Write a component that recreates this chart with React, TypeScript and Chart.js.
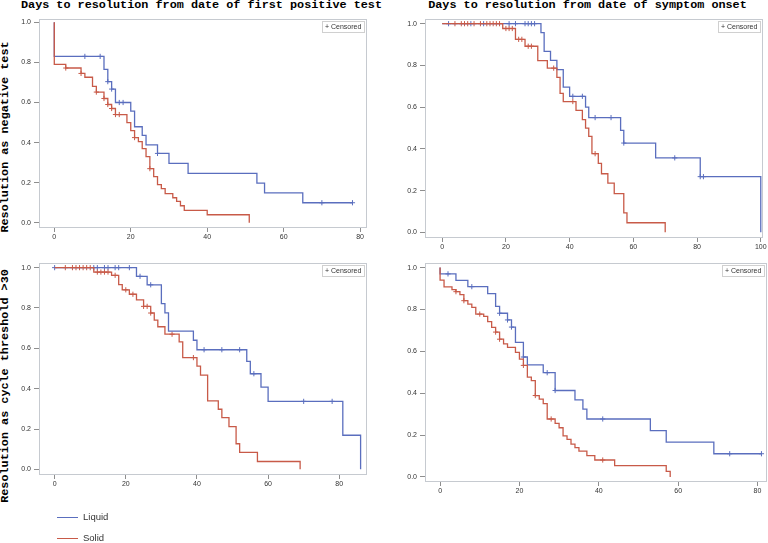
import React, { useEffect, useRef } from "react";
import { Chart, registerables } from "chart.js";

Chart.register(...registerables);
Chart.defaults.font.family = "'Liberation Sans', Arial, sans-serif";

// ---------- Data ----------
// Panel A: days from first positive test, resolution as negative test
const aLiquidTimes = [0, 0, 13, 14, 15, 16, 20, 21, 23, 24, 27, 30, 35, 53, 55, 65, 78];
const aLiquidSurv = [1, 0.83, 0.765, 0.704, 0.667, 0.6, 0.557, 0.479, 0.436, 0.389, 0.346, 0.296, 0.246, 0.198, 0.149, 0.1, 0.1];
const aLiquidCens = [8, 12, 14, 15, 17, 18, 27, 70, 78];
const aSolidTimes = [0, 0, 3, 7, 8, 10, 11, 13, 14, 15, 16, 19, 20, 21, 22, 23, 24, 25, 26, 27, 28, 29, 31, 32, 33, 34, 40, 51];
const aSolidSurv = [1, 0.79, 0.772, 0.745, 0.726, 0.68, 0.652, 0.62, 0.59, 0.57, 0.54, 0.5, 0.46, 0.425, 0.405, 0.37, 0.33, 0.27, 0.23, 0.19, 0.17, 0.145, 0.125, 0.107, 0.085, 0.062, 0.04, 0];
const aSolidCens = [3, 7, 11, 13, 14, 15, 16, 17, 21, 25];

// Panel B: days from symptom onset, resolution as negative test
const bLiquidTimes = [0, 31, 32, 34, 36, 38, 40, 45, 46, 56, 57, 67, 81, 100];
const bLiquidSurv = [1, 0.957, 0.867, 0.824, 0.78, 0.696, 0.652, 0.6, 0.55, 0.489, 0.428, 0.357, 0.267, 0];
const bLiquidCens = [2, 9, 13, 21, 23, 26, 27, 28, 29, 41, 44, 48, 53, 57, 73, 81, 82];
const bSolidTimes = [0, 19, 23, 26, 30, 33, 36, 37, 38, 42, 44, 45, 46, 47, 49, 50, 52, 54, 57, 58, 70];
const bSolidSurv = [1, 0.977, 0.925, 0.892, 0.823, 0.787, 0.743, 0.666, 0.627, 0.585, 0.54, 0.5, 0.46, 0.377, 0.331, 0.281, 0.236, 0.186, 0.093, 0.046, 0];
const bSolidCens = [4, 6, 7, 8, 10, 12, 14, 15, 16, 17, 18, 20, 21, 22, 24, 25, 27, 28, 35, 41, 48];

// Panel C: days from first positive test, resolution as cycle threshold >30
const cLiquidTimes = [0, 23, 26, 30, 31, 32, 39, 40, 54, 55, 58, 60, 81, 86];
const cLiquidSurv = [1, 0.957, 0.915, 0.822, 0.776, 0.685, 0.64, 0.593, 0.535, 0.474, 0.408, 0.337, 0.169, 0];
const cLiquidCens = [0, 11, 12, 14, 15, 17, 18, 21, 24, 27, 42, 47, 52, 56, 70, 78];
const cSolidTimes = [0, 11, 16, 18, 19, 21, 23, 25, 27, 28, 29, 31, 35, 36, 40, 41, 43, 46, 47, 49, 51, 52, 57, 69];
const cSolidSurv = [1, 0.978, 0.962, 0.916, 0.89, 0.868, 0.84, 0.808, 0.775, 0.74, 0.707, 0.67, 0.632, 0.554, 0.512, 0.467, 0.339, 0.298, 0.256, 0.212, 0.127, 0.084, 0.039, 0];
const cSolidCens = [3, 5, 6, 7, 8, 9, 10, 12, 13, 14, 15, 17, 20, 22, 25, 26, 27, 33, 39];

// Panel D: days from symptom onset, resolution as cycle threshold >30
const dLiquidTimes = [0, 0, 4, 7, 12, 14, 15, 17, 18, 19, 21, 22, 26, 29, 34, 36, 37, 53, 57, 69, 81];
const dLiquidSurv = [1, 0.97, 0.939, 0.909, 0.876, 0.815, 0.782, 0.75, 0.716, 0.643, 0.573, 0.535, 0.498, 0.413, 0.368, 0.324, 0.277, 0.221, 0.166, 0.111, 0.111];
const dLiquidCens = [2, 8, 15, 17, 18, 21, 27, 29, 41, 73, 81];
const dSolidTimes = [0, 0, 1, 3, 4, 5, 6, 7, 8, 9, 11, 12, 13, 14, 15, 16, 17, 19, 20, 21, 22, 23, 24, 25, 26, 27, 29, 30, 31, 32, 33, 34, 35, 37, 39, 44, 57, 58];
const dSolidSurv = [1, 0.94, 0.908, 0.895, 0.885, 0.871, 0.842, 0.826, 0.81, 0.778, 0.767, 0.742, 0.715, 0.692, 0.658, 0.636, 0.619, 0.595, 0.563, 0.533, 0.477, 0.46, 0.389, 0.372, 0.35, 0.277, 0.256, 0.235, 0.196, 0.18, 0.157, 0.14, 0.123, 0.102, 0.081, 0.054, 0.027, 0];
const dSolidCens = [4, 6, 10, 14, 15, 21, 24, 28, 41];

const xTicks80 = [0, 20, 40, 60, 80];
const xTicks100 = [0, 20, 40, 60, 80, 100];
const yTicks = [0, 0.2, 0.4, 0.6, 0.8, 1.0];

const titleA = "Days to resolution from date of first positive test";
const titleB = "Days to resolution from date of symptom onset";
const yLabelTop = "Resolution as negative test";
const yLabelBottom = "Resolution as cycle threshold >30";
const seriesNames = ["Liquid", "Solid"];
const censoredLabel = "+ Censored";

const BLUE = "#5a6ebe";
const RED = "#c85a48";
const FRAME = "#c6cad0";

function survAt(times: number[], surv: number[], t: number) {
  let s = surv[0];
  for (let i = 0; i < times.length; i++) if (times[i] <= t) s = surv[i];
  return s;
}

type Frame = { left: number; top: number; width: number; height: number };

const PL = 40, PT = 12, PR = 6, PB = 24;

const framePlugin = {
  id: "kmFrame",
  beforeDatasetsDraw(chart: any) {
    const { ctx, chartArea } = chart;
    ctx.save();
    ctx.strokeStyle = FRAME;
    ctx.lineWidth = 1;
    ctx.strokeRect(
      Math.round(chartArea.left) + 0.5,
      Math.round(chartArea.top) + 0.5,
      Math.round(chartArea.right - chartArea.left) - 1,
      Math.round(chartArea.bottom - chartArea.top) - 1
    );
    ctx.restore();
  },
  afterDraw(chart: any) {
    const { ctx, chartArea } = chart;
    ctx.save();
    ctx.font = "7px 'Liberation Sans', Arial, sans-serif";
    const tw = ctx.measureText(censoredLabel).width;
    const w = Math.round(tw + 6);
    const h = 11;
    const x = Math.round(chartArea.right - 3 - w);
    const y = Math.round(chartArea.top + 2);
    ctx.fillStyle = "#fff";
    ctx.fillRect(x, y, w, h);
    ctx.strokeStyle = "#d0d0d0";
    ctx.lineWidth = 1;
    ctx.strokeRect(x + 0.5, y + 0.5, w, h);
    ctx.fillStyle = "#333";
    ctx.textBaseline = "middle";
    ctx.fillText(censoredLabel, x + 3, y + h / 2 + 0.5);
    ctx.restore();
  },
};

function KMPanel(props: {
  frame: Frame;
  xMin: number; xMax: number; yMin: number; yMax: number;
  xTicks: number[];
  liqT: number[]; liqS: number[]; liqC: number[];
  solT: number[]; solS: number[]; solC: number[];
}) {
  const ref = useRef<HTMLCanvasElement>(null);
  const { frame } = props;
  const W = frame.width + PL + PR;
  const H = frame.height + PT + PB;
  useEffect(() => {
    const p = props;
    const line = (t: number[], s: number[], color: string) => ({
      data: t.map((x, i) => ({ x, y: s[i] })),
      borderColor: color,
      backgroundColor: color,
      borderWidth: 1.3,
      stepped: "before" as const,
      pointRadius: 0,
      fill: false,
      tension: 0,
    });
    const cens = (c: number[], t: number[], s: number[], color: string) => ({
      data: c.map((x) => ({ x, y: survAt(t, s, x) })),
      borderColor: color,
      backgroundColor: color,
      borderWidth: 1,
      showLine: false,
      pointStyle: "cross" as const,
      pointRadius: 2.6,
    });
    const chart = new Chart(ref.current as HTMLCanvasElement, {
      type: "line",
      data: {
        datasets: [
          line(p.solT, p.solS, RED),
          line(p.liqT, p.liqS, BLUE),
          cens(p.solC, p.solT, p.solS, RED),
          cens(p.liqC, p.liqT, p.liqS, BLUE),
        ] as any,
      },
      options: {
        responsive: false,
        animation: false,
        devicePixelRatio: 1,
        layout: { padding: { top: PT, right: PR, left: 0, bottom: 0 } },
        plugins: { legend: { display: false }, tooltip: { enabled: false }, title: { display: false } },
        scales: {
          x: {
            type: "linear",
            min: p.xMin,
            max: p.xMax,
            afterBuildTicks: (s: any) => { s.ticks = p.xTicks.map((v) => ({ value: v })); },
            afterFit: (s: any) => { s.height = PB; },
            grid: { display: true, drawOnChartArea: false, drawTicks: true, tickLength: 4, color: "#8e8e8e" },
            border: { display: false },
            ticks: { autoSkip: false, maxRotation: 0, padding: 1, color: "#333", font: { size: 7 }, callback: (v: any) => String(v) },
          },
          y: {
            type: "linear",
            min: p.yMin,
            max: p.yMax,
            afterBuildTicks: (s: any) => { s.ticks = yTicks.map((v) => ({ value: v })); },
            afterFit: (s: any) => { s.width = PL; },
            grid: { display: true, drawOnChartArea: false, drawTicks: true, tickLength: 5, color: "#8e8e8e" },
            border: { display: false },
            ticks: { autoSkip: false, padding: 3, color: "#333", font: { size: 7 }, callback: (v: any) => Number(v).toFixed(1) },
          },
        },
      } as any,
      plugins: [framePlugin],
    });
    return () => chart.destroy();
  }, []);
  return (
    <canvas
      ref={ref}
      width={W}
      height={H}
      style={{ position: "absolute", left: frame.left - PL, top: frame.top - PT, width: W, height: H }}
    />
  );
}

const titleStyle: React.CSSProperties = {
  position: "absolute",
  fontFamily: "'Liberation Mono', 'Courier New', monospace",
  fontWeight: "bold",
  fontSize: 11.8,
  lineHeight: "14px",
  whiteSpace: "nowrap",
  color: "#000",
};

export default function App() {
  return (
    <div style={{ position: "absolute", left: 0, top: 0, width: 768, height: 543, overflow: "hidden", background: "#fff" }}>
      <div style={{ ...titleStyle, left: 201.5, top: -2, transform: "translateX(-50%)" }}>{titleA}</div>
      <div style={{ ...titleStyle, left: 587.5, top: -2, transform: "translateX(-50%)" }}>{titleB}</div>
      <div style={{ ...titleStyle, left: 5, top: 137, transform: "translate(-50%, -50%) rotate(-90deg)" }}>{yLabelTop}</div>
      <div style={{ ...titleStyle, left: 5, top: 386, transform: "translate(-50%, -50%) rotate(-90deg)" }}>{yLabelBottom}</div>

      <KMPanel frame={{ left: 39, top: 19, width: 328, height: 209 }} xMin={-4} xMax={81.8} yMin={-0.026} yMax={1.0165} xTicks={xTicks80}
        liqT={aLiquidTimes} liqS={aLiquidSurv} liqC={aLiquidCens} solT={aSolidTimes} solS={aSolidSurv} solC={aSolidCens} />
      <KMPanel frame={{ left: 425, top: 19, width: 338, height: 219 }} xMin={-5.4} xMax={100.7} yMin={-0.027} yMax={1.0225} xTicks={xTicks100}
        liqT={bLiquidTimes} liqS={bLiquidSurv} liqC={bLiquidCens} solT={bSolidTimes} solS={bSolidSurv} solC={bSolidCens} />
      <KMPanel frame={{ left: 39, top: 263, width: 328, height: 212 }} xMin={-4.4} xMax={87.8} yMin={-0.028} yMax={1.023} xTicks={xTicks80}
        liqT={cLiquidTimes} liqS={cLiquidSurv} liqC={cLiquidCens} solT={cSolidTimes} solS={cSolidSurv} solC={cSolidCens} />
      <KMPanel frame={{ left: 425, top: 263, width: 342, height: 219 }} xMin={-3.8} xMax={82.4} yMin={-0.024} yMax={1.022} xTicks={xTicks80}
        liqT={dLiquidTimes} liqS={dLiquidSurv} liqC={dLiquidCens} solT={dSolidTimes} solS={dSolidSurv} solC={dSolidCens} />

      <div style={{ position: "absolute", left: 57, top: 517, width: 21, height: 1, background: BLUE }} />
      <div style={{ position: "absolute", left: 83, top: 511, fontFamily: "'Liberation Sans', Arial, sans-serif", fontSize: 9.5, lineHeight: "12px", color: "#333" }}>{seriesNames[0]}</div>
      <div style={{ position: "absolute", left: 57, top: 538, width: 21, height: 1, background: RED }} />
      <div style={{ position: "absolute", left: 83, top: 532, fontFamily: "'Liberation Sans', Arial, sans-serif", fontSize: 9.5, lineHeight: "12px", color: "#333" }}>{seriesNames[1]}</div>
    </div>
  );
}
